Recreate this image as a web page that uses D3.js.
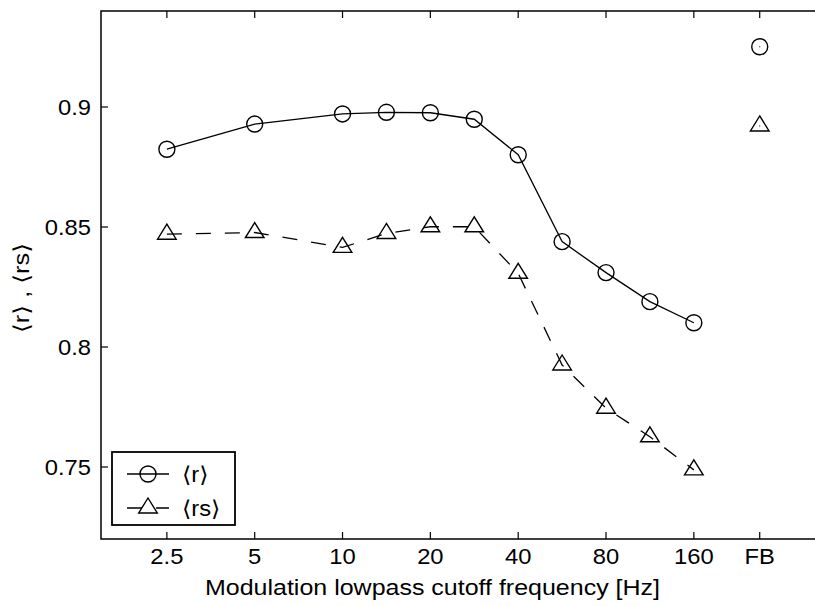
<!DOCTYPE html>
<html>
<head>
<meta charset="utf-8">
<script src="https://cdn.jsdelivr.net/npm/d3@7"></script>
<style>
  body { margin: 0; background: #fff; }
  text { font-family: "Liberation Sans", Arial, "DejaVu Sans", sans-serif; fill: #000; }
</style>
</head>
<body>
<svg id="chart" width="815" height="606"></svg>
<script>
// cutoff frequencies (Hz), half-octave steps
const freqs = [2.5, 3.54, 5, 7.07, 10, 14.14, 20, 28.28, 40, 56.57, 80, 113.1, 160];
const rVals = [0.8824, null, 0.8929, null, 0.8971, 0.8978, 0.8976, 0.8949, 0.8801, 0.8439, 0.8310, 0.8189, 0.8101];
const rsVals = [0.8470, null, 0.8477, null, 0.8415, 0.8473, 0.8501, 0.8501, 0.8307, 0.7925, 0.7745, 0.7626, 0.7488];
// full-band (FB) values
const fbR = 0.9251;
const fbRs = 0.8921;
const xTickVals = [2.5, 5, 10, 20, 40, 80, 160];
const xTickLabels = ['2.5', '5', '10', '20', '40', '80', '160'];
const yTicks = [0.75, 0.8, 0.85, 0.9];
const yTickLabels = ['0.75', '0.8', '0.85', '0.9'];
const fbPos = 2.5 * Math.pow(2, 6.75); // FB column sits 3/4 octave past 160

const svg = d3.select('#chart');
const margin = { top: 11, left: 101 };
const octave = 87.83;
const x = d3.scaleLog().base(2)
  .domain([2.5 * Math.pow(2, -0.75), 2.5 * Math.pow(2, 7.5)])
  .range([margin.left, margin.left + 8.25 * octave]);
const y = d3.scaleLinear().domain([0.72, 0.94]).range([539, margin.top]);

const x0 = x.range()[0], x1 = x.range()[1];
const y0 = y.range()[0], y1 = y.range()[1];
const TICK = 7;
const FS = 22;
const STRETCH = 1.08; // the original text is a bit wider than Liberation Sans

const g = svg.append('g');

// text helper (slightly widened glyphs)
const label = (parent, px, py, str, anchor) =>
  parent.append('text')
    .attr('transform', `translate(${px},${py}) scale(${STRETCH},1)`)
    .attr('text-anchor', anchor)
    .attr('font-size', FS)
    .text(str);

// box
g.append('rect')
  .attr('x', x0).attr('y', y1)
  .attr('width', x1 - x0).attr('height', y0 - y1)
  .attr('fill', 'none').attr('stroke', '#000').attr('stroke-width', 1.5);

// x ticks (bottom + top, inward)
const allX = xTickVals.concat([fbPos]);
const allXLabels = xTickLabels.concat(['FB']);
allX.forEach((v, i) => {
  const px = x(v);
  g.append('line').attr('x1', px).attr('x2', px).attr('y1', y0).attr('y2', y0 - TICK)
    .attr('stroke', '#000').attr('stroke-width', 1.2);
  g.append('line').attr('x1', px).attr('x2', px).attr('y1', y1).attr('y2', y1 + TICK)
    .attr('stroke', '#000').attr('stroke-width', 1.2);
  label(g, px, y0 + 25, allXLabels[i], 'middle');
});

// y ticks
yTicks.forEach((v, i) => {
  const py = y(v);
  g.append('line').attr('x1', x0).attr('x2', x0 + TICK).attr('y1', py).attr('y2', py)
    .attr('stroke', '#000').attr('stroke-width', 1.2);
  label(g, x0 - 10, py + 8, yTickLabels[i], 'end');
});

// axis labels
g.append('text')
  .attr('x', 205).attr('y', 595)
  .attr('font-size', FS)
  .attr('textLength', 455).attr('lengthAdjust', 'spacingAndGlyphs')
  .text('Modulation lowpass cutoff frequency [Hz]');

g.append('text')
  .attr('transform', `translate(29,${(y0 + y1) / 2 + 13}) rotate(-90)`)
  .attr('text-anchor', 'middle')
  .attr('font-size', FS)
  .attr('textLength', 90).attr('lengthAdjust', 'spacingAndGlyphs')
  .text('\u27E8r\u27E9 , \u27E8rs\u27E9');

// series
const pts = (vals) => freqs.map((f, i) => ({ f, v: vals[i] })).filter(d => d.v !== null);
const line = d3.line().x(d => x(d.f)).y(d => y(d.v));

const rPts = pts(rVals);
const rsPts = pts(rsVals);

g.append('path').datum(rPts).attr('d', line)
  .attr('fill', 'none').attr('stroke', '#000').attr('stroke-width', 1.3);
g.append('path').datum(rsPts).attr('d', line)
  .attr('fill', 'none').attr('stroke', '#000').attr('stroke-width', 1.3)
  .attr('stroke-dasharray', '15,14');

const triPath = 'M0,-10L9.3,5L-9.3,5Z';

g.selectAll('.mk-r').data(rPts.concat([{ f: fbPos, v: fbR }])).enter()
  .append('circle').attr('class', 'mk-r')
  .attr('cx', d => x(d.f)).attr('cy', d => y(d.v)).attr('r', 8)
  .attr('fill', 'none').attr('stroke', '#000').attr('stroke-width', 1.4);

g.selectAll('.mk-rs').data(rsPts.concat([{ f: fbPos, v: fbRs }])).enter()
  .append('path').attr('class', 'mk-rs')
  .attr('transform', d => `translate(${x(d.f)},${y(d.v)})`)
  .attr('d', triPath)
  .attr('fill', 'none').attr('stroke', '#000').attr('stroke-width', 1.4);

// tiny centre dots on the FB markers
[fbR, fbRs].forEach(v => {
  g.append('rect').attr('x', x(fbPos) - 0.5).attr('y', y(v) - 0.5)
    .attr('width', 1).attr('height', 1).attr('fill', '#000');
});

// legend
const leg = g.append('g').attr('transform', 'translate(112,452)');
leg.append('rect').attr('width', 123).attr('height', 73)
  .attr('fill', '#fff').attr('stroke', '#000').attr('stroke-width', 1.8);
const legItems = [
  { label: '\u27E8r\u27E9', dash: null, marker: 'circle' },
  { label: '\u27E8rs\u27E9', dash: '15,14', marker: 'tri' }
];
legItems.forEach((d, i) => {
  const cy = 22 + i * 34;
  const row = leg.append('g').attr('transform', `translate(0,${cy})`);
  row.append('line').attr('x1', 15).attr('x2', 57).attr('y1', 0).attr('y2', 0)
    .attr('stroke', '#000').attr('stroke-width', 1.3)
    .attr('stroke-dasharray', d.dash);
  if (d.marker === 'circle') {
    row.append('circle').attr('cx', 36).attr('r', 8)
      .attr('fill', 'none').attr('stroke', '#000').attr('stroke-width', 1.4);
  } else {
    row.append('path').attr('transform', 'translate(36,0)').attr('d', triPath)
      .attr('fill', '#fff').attr('stroke', '#000').attr('stroke-width', 1.4);
  }
  label(row, 70, 8, d.label, 'start');
});
</script>
</body>
</html>
